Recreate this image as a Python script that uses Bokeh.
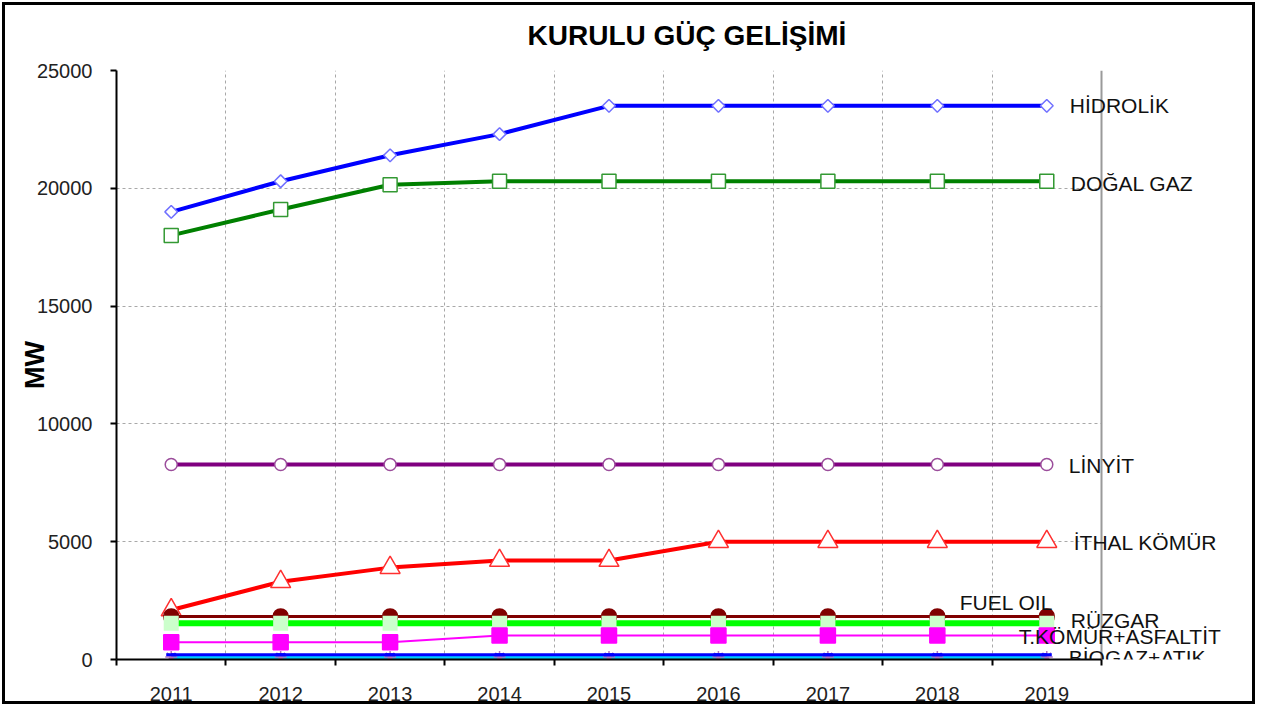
import math
from bokeh.plotting import figure
from bokeh.models import Range1d, FixedTicker, Label, Grid
from bokeh.embed import file_html
from bokeh.resources import INLINE

# ---------------- data ----------------
years = [2011, 2012, 2013, 2014, 2015, 2016, 2017, 2018, 2019]
hidrolik = [19000, 20300, 21400, 22300, 23500, 23500, 23500, 23500, 23500]
dogal_gaz = [18000, 19100, 20150, 20300, 20300, 20300, 20300, 20300, 20300]
linyit = [8280, 8280, 8280, 8280, 8280, 8280, 8280, 8280, 8280]
ithal_komur = [2100, 3300, 3900, 4200, 4200, 5000, 5000, 5000, 5000]
fuel_oil = [1830, 1830, 1830, 1830, 1830, 1830, 1830, 1830, 1830]
ruzgar = [1540, 1540, 1540, 1540, 1540, 1540, 1540, 1540, 1540]
t_komur_asfaltit = [730, 730, 730, 1020, 1020, 1020, 1020, 1020, 1020]
biogaz_atik = [200, 200, 200, 200, 200, 200, 200, 200, 200]
diger = [110, 110, 110, 110, 110, 110, 110, 110, 110]
y_ticks = [0, 5000, 10000, 15000, 20000, 25000]

title_text = "KURULU GÜÇ GELİŞİMİ"
y_title = "MW"
names = ["HİDROLİK", "DOĞAL GAZ", "LİNYİT", "İTHAL KÖMÜR", "FUEL OIL",
         "RÜZGAR", "T.KÖMÜR+ASFALTİT", "BİOGAZ+ATIK"]

# ---------------- layout geometry (pixels) ----------------
W, H = 1262, 706
plot_left, plot_right, plot_top, plot_bottom = 116, 1101, 70, 659
x0, x1 = years[0] - 0.5, years[-1] + 0.5
y0, y1 = y_ticks[0], y_ticks[-1]
# frame runs to the right edge so that the series labels are not clipped
x_end = x0 + (x1 - x0) * (W - plot_left) / (plot_right - plot_left)

p = figure(width=W, height=H, output_backend="svg", toolbar_location=None,
           x_range=Range1d(x0, x_end), y_range=Range1d(y0, y1),
           min_border_left=plot_left, min_border_right=0, min_border_top=plot_top,
           min_border_bottom=H - plot_bottom)
p.styles = {
    "background-color": "white",
    "box-shadow": ("inset -7px 0 0 0 white, inset 0 -1px 0 0 white, inset 0 0 0 2px white, "
                   "inset -10px 0 0 0 black, inset 0 -4px 0 0 black, inset 0 0 0 5px black"),
}
p.background_fill_color = None
p.border_fill_color = None
p.outline_line_color = None

# title
p.title.text = title_text
p.title.text_font = "Liberation Sans"
p.title.text_font_style = "bold"
p.title.text_font_size = "28px"
p.title.text_color = "black"
p.title.align = "left"
p.title.vertical_align = "top"
p.title.offset = 411
p.title.standoff = 36

boundaries = [x0 + i for i in range(len(years) + 1)]

# x axis
p.xaxis.bounds = (x0, x1)
p.xaxis.ticker = FixedTicker(ticks=years, minor_ticks=boundaries)
p.xaxis.major_tick_out = 0
p.xaxis.major_tick_in = 0
p.xaxis.minor_tick_out = 6
p.xaxis.minor_tick_in = 0
p.xaxis.minor_tick_line_color = "black"
p.xaxis.minor_tick_line_width = 2
p.xaxis.axis_line_color = "black"
p.xaxis.axis_line_width = 2
p.xaxis.major_label_standoff = 21
p.xaxis.major_label_text_font = "Liberation Sans"
p.xaxis.major_label_text_font_size = "20px"
p.xaxis.major_label_text_color = "#222222"

# y axis
p.yaxis.ticker = FixedTicker(ticks=y_ticks)
p.yaxis.major_tick_out = 6
p.yaxis.major_tick_in = 0
p.yaxis.minor_tick_out = 0
p.yaxis.minor_tick_in = 0
p.yaxis.major_tick_line_color = "black"
p.yaxis.major_tick_line_width = 2
p.yaxis.axis_line_color = "black"
p.yaxis.axis_line_width = 2
p.yaxis.major_label_standoff = 18
p.yaxis.major_label_text_font = "Liberation Sans"
p.yaxis.major_label_text_font_size = "20px"
p.yaxis.major_label_text_color = "#222222"
p.yaxis.axis_label = y_title
p.yaxis.axis_label_text_font = "Liberation Sans"
p.yaxis.axis_label_text_font_style = "bold"
p.yaxis.axis_label_text_font_size = "27px"
p.yaxis.axis_label_text_color = "black"
p.yaxis.axis_label_standoff = -16

# dashed grids limited to the plot area
p.xgrid.ticker = FixedTicker(ticks=boundaries[1:-1])
p.xgrid.cross_bounds = (y0, y1)
p.ygrid.ticker = FixedTicker(ticks=y_ticks[1:-1])
p.ygrid.cross_bounds = (x0, x1)
for g in (p.xgrid, p.ygrid):
    g.grid_line_color = "#a8a8a8"
    g.grid_line_dash = "3 3"
    g.grid_line_width = 1

# solid grey plot-area border (top and right)
top_border = Grid(dimension=1, ticker=FixedTicker(ticks=[y1]), cross_bounds=(x0, x1),
                  grid_line_color="#9a9a9a", grid_line_width=2)
right_border = Grid(dimension=0, ticker=FixedTicker(ticks=[x1]), cross_bounds=(y0, y1),
                    grid_line_color="#9a9a9a", grid_line_width=2)
p.add_layout(top_border)
p.add_layout(right_border)

# ---------------- series ----------------
def series(vals, color, lw, marker, size, fill, mline, angle=0.0, mlw=1.5):
    p.line(years, vals, line_color=color, line_width=lw)
    p.scatter(years, vals, marker=marker, size=size, fill_color=fill,
              line_color=mline, line_width=mlw, angle=angle)

series(hidrolik, "#0000ff", 4, "square", 9, "white", "#7070ff", angle=math.pi / 4)
series(dogal_gaz, "#008000", 4, "square", 14, "white", "#339933")
series(linyit, "#800080", 4, "circle", 12, "white", "#9b4d9b")
series(ithal_komur, "#ff0000", 4, "triangle", 20, "white", "#ff3030")
series(fuel_oil, "#800000", 3, "circle", 15, "#800000", "#800000")
series(ruzgar, "#00ff00", 6, "square", 15, "#ccffcc", None, mlw=0)
series(t_komur_asfaltit, "#ff00ff", 2, "square", 15, "#ff00ff", "#ff00ff")
series(diger, "#00ccff", 4, "asterisk", 12, None, "#b070c0", mlw=1.5)
series(biogaz_atik, "#0000ff", 3, "dash", 10, None, "#0000ff", mlw=3)

# ---------------- series labels ----------------
last_vals = [hidrolik[-1], dogal_gaz[-1], linyit[-1], ithal_komur[-1],
             fuel_oil[-1], ruzgar[-1], t_komur_asfaltit[-1], biogaz_atik[-1]]
x_offs = [23, 24, 22, 27, -87, 24, -28, 22]
y_offs = [0, -2, -1, -1, 14, 3, -1, -3]
for n, v, xo, yo in zip(names, last_vals, x_offs, y_offs):
    p.add_layout(Label(x=years[-1], y=v, text=n, x_offset=xo, y_offset=yo,
                       text_font="Liberation Sans", text_font_size="21px",
                       text_color="#111111", text_baseline="middle",
                       text_align="left"))

open("out.html", "w").write(file_html(p, INLINE))
